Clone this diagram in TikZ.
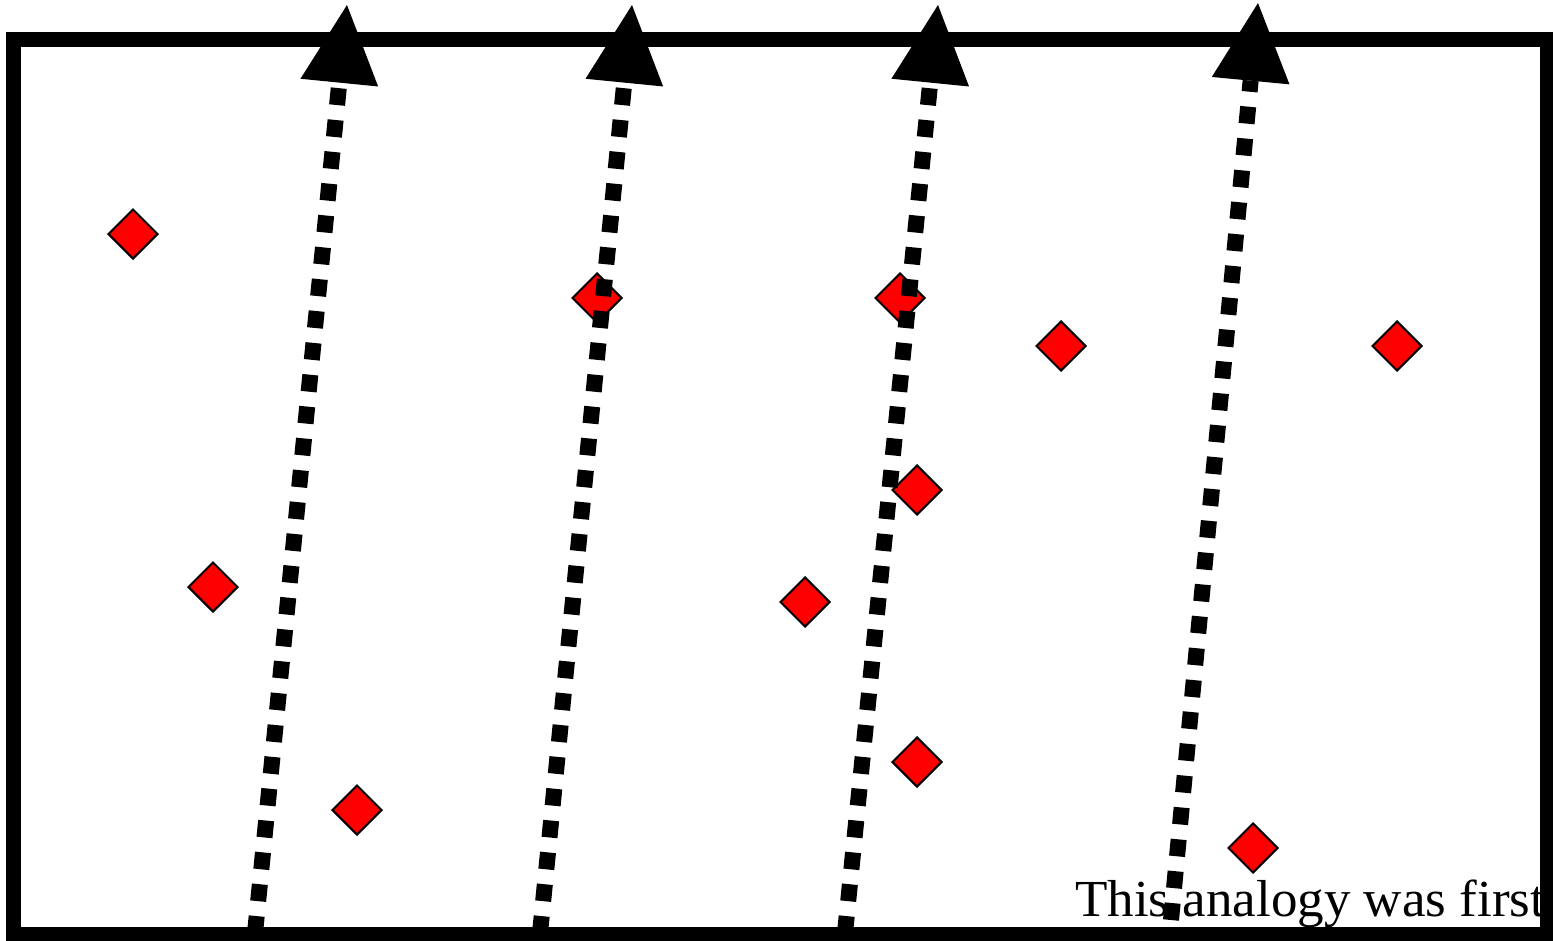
\documentclass[tikz,border=0pt]{standalone}
\usepackage{fontspec}
\setmainfont{Liberation Serif}
\usetikzlibrary{arrows.meta,shapes.geometric}
\begin{document}
\begin{tikzpicture}[x=1pt,y=-1pt,
  gem/.style={diamond,draw=black,fill=red,line width=2pt,minimum width=50pt,minimum height=50pt,inner sep=0pt},
  flow/.style={line width=16pt,dash pattern=on 17pt off 15pt,
    -{Triangle[length=78pt,width=78pt,line width=0pt]}},
  frame/.style={line width=15pt}]
\useasboundingbox (0,0) rectangle (1553,940);
% markers
\node[gem] (d1) at (133,234) {};
\node[gem] (d2) at (213,587) {};
\node[gem] (d3) at (357,810) {};
\node[gem] (d4) at (597,298) {};
\node[gem] (d5) at (805,602) {};
\node[gem] (d6) at (900,298) {};
\node[gem] (d7) at (917,490) {};
\node[gem] (d8) at (917,762) {};
\node[gem] (d9) at (1061,346) {};
\node[gem] (d10) at (1397,346) {};
\node[gem] (d11) at (1253,848) {};
% caption
\node[anchor=base west,inner sep=0pt,font=\fontsize{52}{60}\selectfont\addfontfeature{FakeStretch=1.02}] (cap) at (1075,916) {This analogy was first};
% flow arrows
\coordinate (s1) at (255,933); \coordinate (t1) at (347,5);
\coordinate (s2) at (540,933); \coordinate (t2) at (632,5);
\coordinate (s3) at (845,933); \coordinate (t3) at (938,5);
\coordinate (s4) at (1171,920); \coordinate (t4) at (1258,3);
\draw[flow] (s1) -- (t1);
\draw[flow] (s2) -- (t2);
\draw[flow] (s3) -- (t3);
\draw[flow] (s4) -- (t4);
% frame
\draw[frame] (13,39.5) rectangle (1547,934);
\end{tikzpicture}
\end{document}
